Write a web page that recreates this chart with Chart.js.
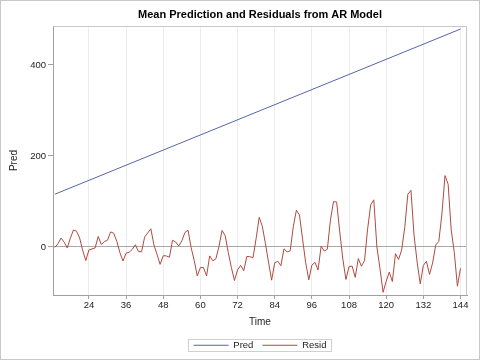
<!DOCTYPE html>
<html>
<head>
<meta charset="utf-8">
<script src="https://cdn.jsdelivr.net/npm/chart.js@4"></script>
<style>
  body { margin: 0; background: #fff; }
</style>
</head>
<body>
<canvas id="ar-chart" width="480" height="360"></canvas>
<script>
var time = [
	13, 14, 15, 16, 17, 18, 19, 20, 21, 22, 23, 24,
	25, 26, 27, 28, 29, 30, 31, 32, 33, 34, 35, 36,
	37, 38, 39, 40, 41, 42, 43, 44, 45, 46, 47, 48,
	49, 50, 51, 52, 53, 54, 55, 56, 57, 58, 59, 60,
	61, 62, 63, 64, 65, 66, 67, 68, 69, 70, 71, 72,
	73, 74, 75, 76, 77, 78, 79, 80, 81, 82, 83, 84,
	85, 86, 87, 88, 89, 90, 91, 92, 93, 94, 95, 96,
	97, 98, 99, 100, 101, 102, 103, 104, 105, 106, 107, 108,
	109, 110, 111, 112, 113, 114, 115, 116, 117, 118, 119, 120,
	121, 122, 123, 124, 125, 126, 127, 128, 129, 130, 131, 132,
	133, 134, 135, 136, 137, 138, 139, 140, 141, 142, 143, 144
];

var resid = [
	-1.0, 7.2, 19.5, 10.7, -2.1, 19.2, 37.4, 34.6, 19.8, -7.9, -29.7, -6.5,
	-4.2, -2.0, 23.2, 5.5, 11.7, 14.9, 33.1, 30.4, 12.6, -12.2, -30.9, -13.7,
	-11.5, -5.3, 5.0, -9.8, -10.6, 21.7, 30.9, 40.1, 4.4, -16.4, -38.2, -19.0,
	-19.7, -22.5, 14.7, 11.0, 2.2, 13.4, 31.7, 36.9, -0.9, -29.7, -63.4, -45.2,
	-45.0, -63.7, -19.5, -30.3, -26.0, 1.2, 36.4, 24.7, -12.1, -44.9, -73.7, -50.4,
	-40.2, -52.0, -20.7, -21.5, -23.3, 19.0, 65.2, 45.4, 7.6, -33.1, -72.9, -34.7,
	-31.4, -41.2, -4.0, -10.8, -8.5, 44.7, 80.9, 70.2, 17.4, -34.4, -72.1, -39.9,
	-33.7, -50.5, 1.8, -9.0, -4.8, 59.5, 99.7, 98.9, 33.2, -26.6, -71.4, -43.2,
	-41.9, -66.7, -25.5, -42.2, -30.0, 39.2, 92.5, 103.7, -0.1, -47.9, -99.6, -75.4,
	-55.2, -75.9, -14.7, -27.5, -6.2, 43.0, 116.2, 124.5, 25.7, -33.1, -80.9, -40.6,
	-31.4, -60.2, -34.9, 4.3, 12.5, 72.8, 157.0, 138.2, 37.4, -12.3, -86.1, -46.9
];

// the mean prediction is a straight line, so its two ends are enough
var predTime = [13, 144];
var pred = [116, 479];

var xTicks = [24, 36, 48, 60, 72, 84, 96, 108, 120, 132, 144];
var yTicks = [0, 200, 400];

var seriesNames = ['Pred', 'Resid'];
var seriesColors = ['#5566a8', '#b04a40'];

var font = 'Liberation Sans, Arial, sans-serif';

function points(xs, ys) {
	return xs.map(function (x, i) { return {x: x, y: ys[i]}; });
}

var framePlugin = {
	id: 'frame',
	afterUpdate: function (chart) {
		// centre title and legend over the plot area, not the whole canvas
		var a = chart.chartArea;
		var plotMid = (a.left + a.right) / 2;

		var tb = chart.titleBlock;
		var tdx = plotMid - (tb.left + tb.right) / 2;
		tb.left += tdx;
		tb.right += tdx;

		var lg = chart.legend;
		var boxes = lg.legendHitBoxes;
		if (!boxes || !boxes.length) return;
		var first = boxes[0], last = boxes[boxes.length - 1];
		var dx = plotMid - (first.left + last.left + last.width) / 2;
		lg.left += dx;
		lg.right += dx;
		boxes.forEach(function (b) { b.left += dx; });
	},
	afterDraw: function (chart) {
		var ctx = chart.ctx;
		var a = chart.chartArea;
		ctx.save();
		ctx.lineWidth = 1;
		ctx.strokeStyle = '#c8c8c8';
		ctx.beginPath();
		ctx.moveTo(Math.round(a.left) + 0.5, Math.round(a.top) + 0.5);
		ctx.lineTo(Math.round(a.right) - 0.5, Math.round(a.top) + 0.5);
		ctx.lineTo(Math.round(a.right) - 0.5, Math.round(a.bottom));
		ctx.stroke();

		// box round the legend
		var boxes = chart.legend.legendHitBoxes;
		if (boxes.length) {
			var first = boxes[0], last = boxes[boxes.length - 1];
			var l = Math.round(first.left) - 6, r = Math.round(last.left + last.width) + 5;
			var cy = first.top + first.height / 2;
			ctx.strokeStyle = '#d0d0d0';
			ctx.strokeRect(l + 0.5, Math.round(cy - 6) + 0.5, r - l, 12);
		}

		ctx.strokeStyle = '#c8c8c8';
		ctx.strokeRect(0.5, 0.5, chart.width - 1, chart.height - 1);
		ctx.restore();
	}
};

new Chart('ar-chart', {
	type: 'line',
	data: {
		datasets: [
			{
				label: seriesNames[0],
				data: points(predTime, pred),
				borderColor: seriesColors[0],
				backgroundColor: seriesColors[0],
				borderWidth: 1,
				pointRadius: 0,
				tension: 0
			},
			{
				label: seriesNames[1],
				data: points(time, resid),
				borderColor: seriesColors[1],
				backgroundColor: seriesColors[1],
				borderWidth: 1,
				pointRadius: 0,
				tension: 0
			}
		]
	},
	options: {
		responsive: false,
		animation: false,
		devicePixelRatio: 1,
		layout: {
			padding: {left: 0, right: 13, top: 0, bottom: 0}
		},
		plugins: {
			title: {
				display: true,
				text: 'Mean Prediction and Residuals from AR Model',
				color: '#000',
				font: {family: font, size: 11, weight: 'bold'},
				padding: {top: 8, bottom: 4.8}
			},
			legend: {
				display: true,
				position: 'bottom',
				labels: {
					usePointStyle: true,
					pointStyle: 'line',
					pointStyleWidth: 35,
					padding: 9,
					color: '#222',
					font: {family: font, size: 9.5}
				}
			},
			tooltip: {enabled: false}
		},
		scales: {
			x: {
				type: 'linear',
				min: 12.4,
				max: 146.1,
				afterBuildTicks: function (axis) {
					axis.ticks = xTicks.map(function (v) { return {value: v}; });
				},
				afterFit: function (axis) {
					axis.height = 36.5;
				},
				grid: {
					color: '#ececec',
					tickColor: '#a0a0a0',
					tickLength: 4
				},
				border: {color: '#a0a0a0'},
				ticks: {
					padding: 1,
					maxRotation: 0,
					color: '#222',
					font: {family: font, size: 9.5}
				},
				title: {
					display: true,
					text: 'Time',
					color: '#222',
					font: {family: font, size: 10},
					padding: {top: 0, bottom: 3}
				}
			},
			y: {
				type: 'linear',
				min: -105.5,
				max: 485.7,
				afterBuildTicks: function (axis) {
					axis.ticks = yTicks.map(function (v) { return {value: v}; });
				},
				afterFit: function (axis) {
					axis.width = 53;
				},
				grid: {
					color: function (c) { return c.tick && c.tick.value === 0 ? '#a8a8a8' : 'rgba(0,0,0,0)'; },
					tickColor: '#a0a0a0',
					tickLength: 5
				},
				border: {color: '#a0a0a0'},
				ticks: {
					padding: 2,
					color: '#222',
					font: {family: font, size: 9.5}
				},
				title: {
					display: true,
					text: 'Pred',
					color: '#222',
					font: {family: font, size: 10},
					padding: {top: 8.5, bottom: 0}
				}
			}
		}
	},
	plugins: [framePlugin]
});
</script>
</body>
</html>
